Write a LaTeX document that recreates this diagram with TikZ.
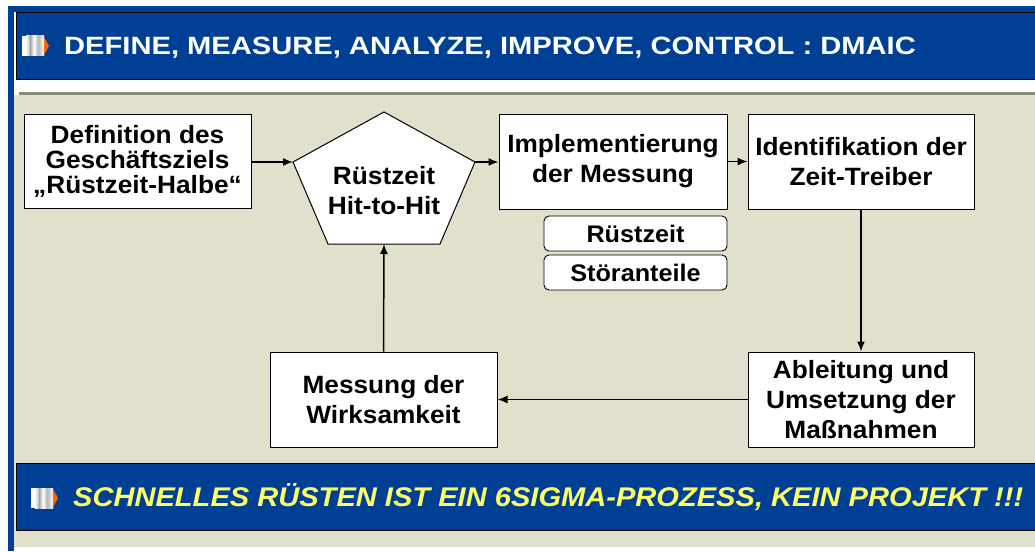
\documentclass[tikz,border=0pt]{standalone}
\usepackage{fontspec}
\setmainfont{Liberation Sans}
\newfontfamily\boxfont[FakeStretch=1.05]{Liberation Sans}
\newfontfamily\titlefont[FakeStretch=1.165]{Liberation Sans}
\newfontfamily\mottofont[FakeStretch=1.077]{Liberation Sans}
\usetikzlibrary{arrows.meta}
\definecolor{bannerblue}{RGB}{0,64,148}
\definecolor{panelbeige}{RGB}{225,224,204}
\definecolor{rulegrey}{RGB}{138,137,122}
\definecolor{textyellow}{RGB}{255,255,102}
\definecolor{iconorange}{RGB}{255,102,0}
\tikzset{
  every picture/.style={x=1pt,y=-1pt},
  procbox/.style={draw=black, line width=1pt, fill=white, inner sep=0pt, align=center,
     font=\boxfont\fontsize{25}{30}\selectfont\bfseries},
  tagbox/.style={draw=black, line width=0.9pt, fill=white, rounded corners=5pt, inner sep=0pt,
     align=center, font=\boxfont\fontsize{24}{28}\selectfont\bfseries},
  flow/.style={draw=black, line width=1.5pt, -{Latex[length=10pt,width=8pt]}},
  banner/.style={draw=black, line width=1pt, fill=bannerblue}
}
\newcommand{\dmaicicon}[2]{%
  \fill[white] (#1,#2) rectangle ++(22,20);
  \shade[left color=white, right color=gray!60] (#1+4,#2) rectangle ++(4,20);
  \shade[left color=gray!70, right color=white] (#1+8,#2) rectangle ++(4,20);
  \shade[left color=white, right color=gray!70] (#1+12,#2) rectangle ++(5,20);
  \shade[left color=gray!50, right color=white] (#1+17,#2) rectangle ++(5,20);
  \fill[iconorange] (#1+22,#2+1) -- (#1+27,#2+10) -- (#1+22,#2+19) -- cycle;
}
\begin{document}
\begin{tikzpicture}
\useasboundingbox (0,0) rectangle (1035,551);
\fill[white] (0,0) rectangle (1035,551);
% frame
\fill[bannerblue] (8,6) rectangle (1035,12);
\fill[bannerblue] (8,6) rectangle (14,551);
\fill[panelbeige] (14,95) rectangle (1035,547);
\fill[rulegrey] (19,92) rectangle (1035,95);
% title banner
\draw[banner] (16,12.5) rectangle (1040,79.5);
\dmaicicon{22}{36}
\node[anchor=base west, text=white, font=\titlefont\fontsize{25}{27}\selectfont\bfseries, inner sep=0pt] (title) at (64,55) {DEFINE, MEASURE, ANALYZE, IMPROVE, CONTROL : DMAIC};
% bottom banner
\draw[banner] (16,463) rectangle (1040,530);
\dmaicicon{31}{488}
\node[anchor=base west, text=textyellow, font=\mottofont\fontsize{27}{29}\selectfont\bfseries\itshape, inner sep=0pt] (motto) at (73,506) {SCHNELLES RÜSTEN IST EIN 6SIGMA-PROZESS, KEIN PROJEKT !!!};
% process boxes
\node[procbox, minimum width=227pt, minimum height=94pt, font=\boxfont\fontsize{25}{25}\selectfont\bfseries] (def) at (137.5,161) {Definition des\\Geschäftsziels\\„Rüstzeit-Halbe“};
\coordinate (pt) at (384,112);
\coordinate (pl) at (293,162);
\coordinate (pr) at (475,162);
\coordinate (pbr) at (440,244);
\coordinate (pbl) at (328,244);
\coordinate (pb) at (384,244);
\draw[line width=1pt, fill=white] (pt) -- (pr) -- (pbr) -- (pbl) -- (pl) -- cycle;
\node[align=center, inner sep=0pt, font=\boxfont\fontsize{25}{30}\selectfont\bfseries] (rz) at (384,191) {Rüstzeit\\Hit-to-Hit};
\node[procbox, minimum width=228pt, minimum height=95pt] (impl) at (613,161.5) {Implementierung\\der Messung};
\node[tagbox, minimum width=183pt, minimum height=35pt] (tag1) at (635.5,233.5) {Rüstzeit};
\node[tagbox, minimum width=183pt, minimum height=35pt] (tag2) at (635.5,272.5) {Störanteile};
\node[procbox, minimum width=226pt, minimum height=95pt] (ident) at (861,161.5) {Identifikation der\\Zeit-Treiber};
\node[procbox, minimum width=226pt, minimum height=95pt] (abl) at (861,399.5) {Ableitung und\\Umsetzung der\\Maßnahmen};
\node[procbox, minimum width=227pt, minimum height=95pt] (mess) at (383.5,399.5) {Messung der\\Wirksamkeit};
% connectors
\draw[flow] (def.east |- pl) -- (pl);
\draw[flow] (pr) -- (impl.west |- pr);
\draw[flow] (impl.east) -- (ident.west);
\draw[flow] (ident.south) -- (abl.north);
\draw[flow] (abl.west) -- (mess.east);
\draw[flow] (mess.north) -- (pb);
\end{tikzpicture}
\end{document}
